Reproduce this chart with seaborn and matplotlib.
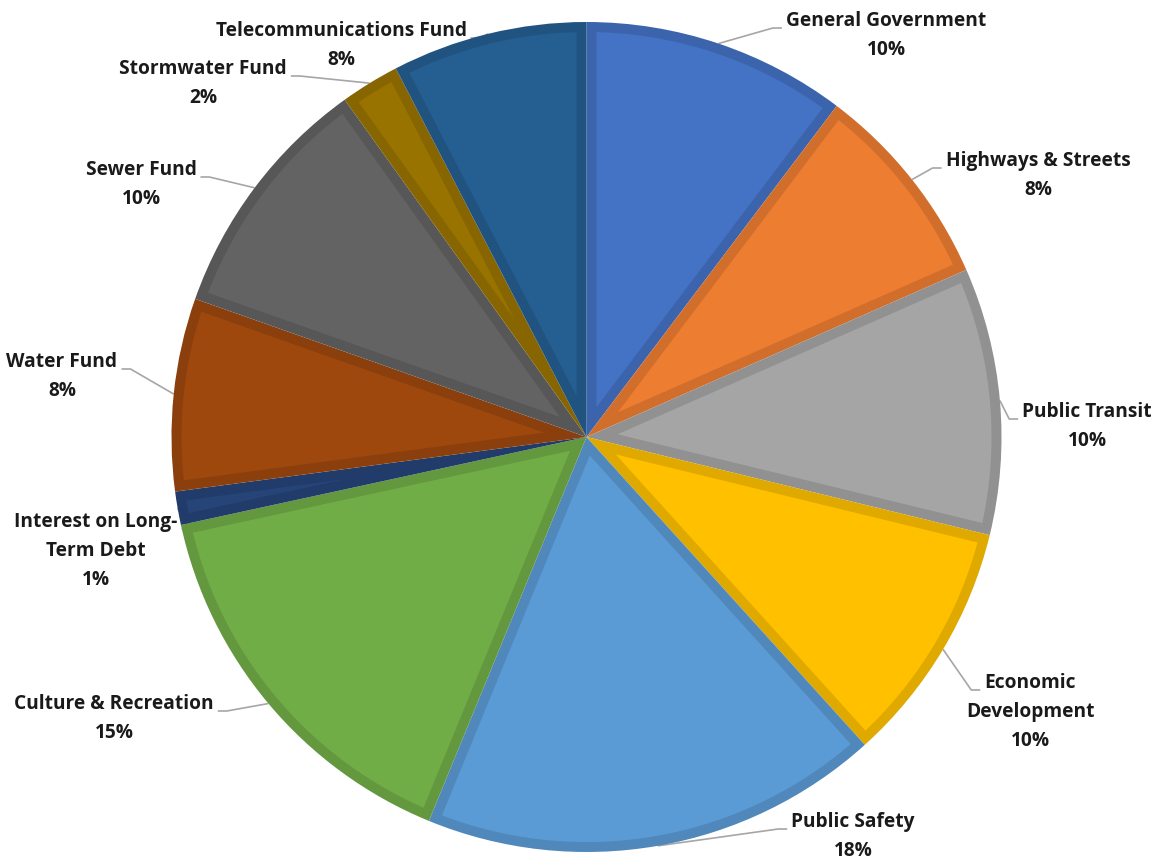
import numpy as np
import matplotlib
matplotlib.use("Agg")
import matplotlib.pyplot as plt
import seaborn as sns

# Share of spending by function (percent)
categories = [
    "General Government", "Highways & Streets", "Public Transit",
    "Economic Development", "Public Safety", "Culture & Recreation",
    "Interest on Long-Term Debt", "Water Fund", "Sewer Fund",
    "Stormwater Fund", "Telecommunications Fund",
]
shares = [10.3, 8.1, 10.4, 9.5, 17.9, 15.4, 1.3, 7.5, 9.7, 2.3, 7.6]
pct_labels = ["10%", "8%", "10%", "10%", "18%", "15%", "1%", "8%", "10%", "2%", "8%"]

# label text as it is wrapped on the chart
label_lines = [
    ["General Government"], ["Highways & Streets"], ["Public Transit"],
    ["Economic", "Development"], ["Public Safety"], ["Culture & Recreation"],
    ["Interest on Long-", "Term Debt"], ["Water Fund"], ["Sewer Fund"],
    ["Stormwater Fund"], ["Telecommunications Fund"],
]

colors = ["#4472C4", "#ED7D31", "#A5A5A5", "#FFC000", "#5B9BD5", "#70AD47",
          "#264478", "#9E480E", "#636363", "#997300", "#255E91"]

# label placement (pixel coords from top-left: centre x, first line y)
label_pos = [(886, 21), (1038, 161), (1087, 412), (1030, 683), (853, 822),
             (114, 704), (96, 522), (62, 362), (141, 170), (203, 69), (341, 31)]

W, H = 1156, 857
cx, cy, R = 586.5, H - 437, 415
band = 10  # darker inner border of each slice, px

sns.set_theme(style="white")
plt.rcParams["font.family"] = ["Open Sans", "DejaVu Sans"]

fig = plt.figure(figsize=(W / 100, H / 100), dpi=100)
ax = fig.add_axes([0, 0, 1, 1])

edge_colors = [np.array(matplotlib.colors.to_rgb(c)) * 0.88 for c in colors]
wedges, _ = ax.pie(shares, colors=edge_colors, startangle=90, counterclock=False,
                   center=(cx, cy), radius=R, frame=True,
                   wedgeprops=dict(linewidth=0))
ax.set_xlim(0, W)
ax.set_ylim(0, H)
ax.set_aspect("equal")
ax.axis("off")

# lighter inner face, inset from the slice outline by `band`
for w, c in zip(wedges, colors):
    t1, t2 = np.deg2rad(w.theta1), np.deg2rad(w.theta2)
    half = (t2 - t1) / 2
    bis = (t1 + t2) / 2
    a = band / np.sin(half)
    ri = R - band
    off = np.arcsin(band / ri)
    if t2 - off <= t1 + off or a >= ri:
        continue
    phi = np.linspace(t1 + off, t2 - off, 100)
    xs = np.concatenate([[cx + a * np.cos(bis)], cx + ri * np.cos(phi)])
    ys = np.concatenate([[cy + a * np.sin(bis)], cy + ri * np.sin(phi)])
    ax.fill(xs, ys, color=c, lw=0, zorder=2)

line_h = 29
texts = []
for lines, pct, (px, py) in zip(label_lines, pct_labels, label_pos):
    objs = []
    for i, s in enumerate(lines + [pct]):
        t = ax.text(px, H - (py + i * line_h), s, ha="center", va="center",
                    fontsize=13.8, fontweight="bold", color="#1a1a1a")
        objs.append(t)
    texts.append(objs)

fig.canvas.draw()
renderer = fig.canvas.get_renderer()

cum = np.cumsum([0] + shares[:-1])
for share, start, objs, (px, py) in zip(shares, cum, texts, label_pos):
    mid = (start + share / 2) / sum(shares) * 360
    theta = np.deg2rad(90 - mid)
    ex, ey = cx + R * np.cos(theta), cy + R * np.sin(theta)
    bb = objs[0].get_window_extent(renderer)
    ay = H - (py + 7)
    if ex > px:
        attach = bb.x1 + 4
        elbow = attach + 9
    else:
        attach = bb.x0 - 4
        elbow = attach - 9
    ax.plot([ex, elbow, attach], [ey, ay, ay], color="#A6A6A6", lw=1.2,
            solid_capstyle="butt", zorder=0.5)

fig.savefig("out.png", dpi=100, facecolor="white")
